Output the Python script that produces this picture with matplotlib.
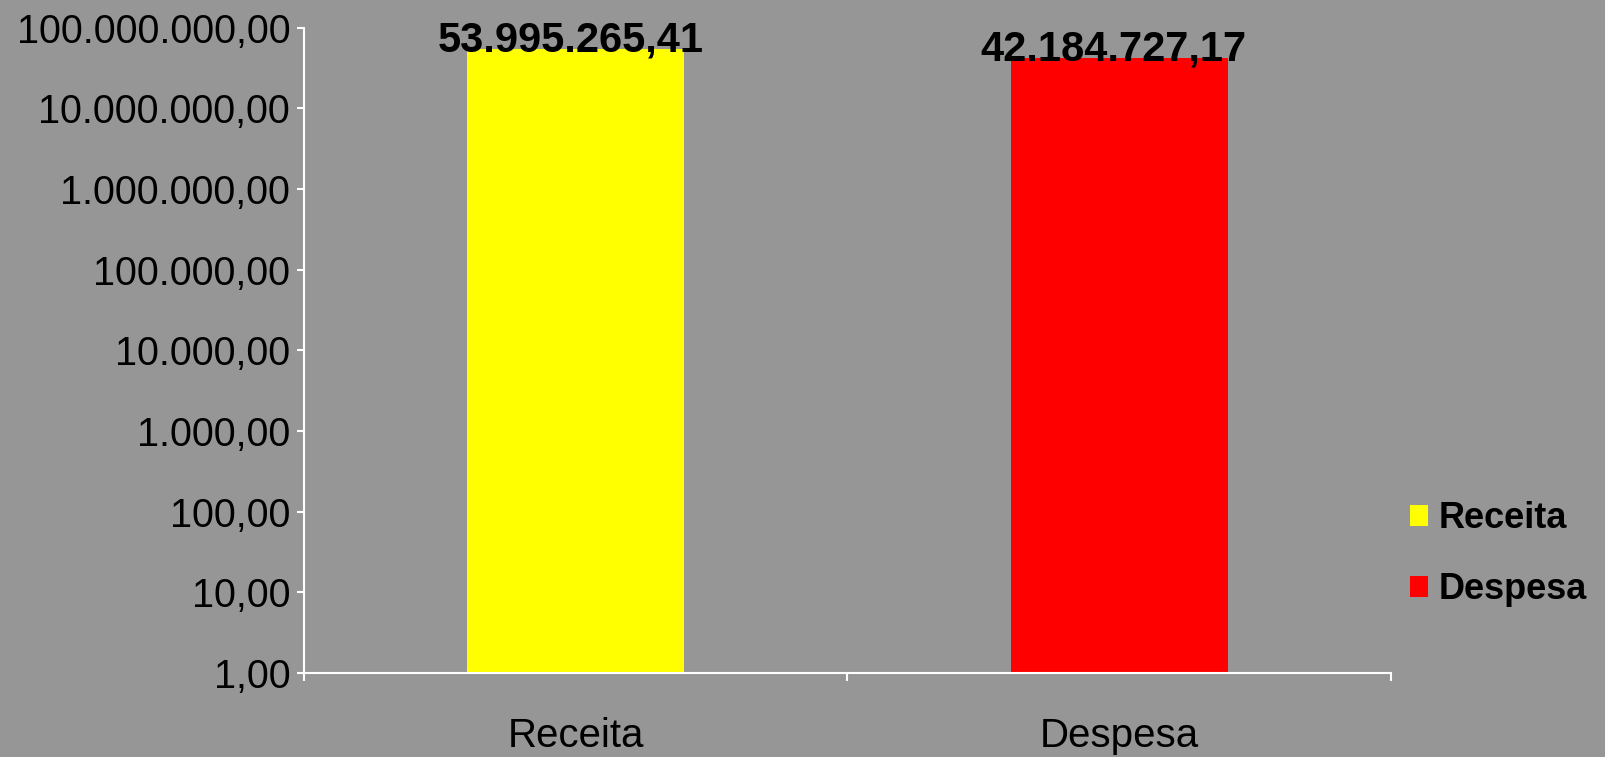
import numpy as np
import matplotlib.pyplot as plt
from matplotlib.ticker import FuncFormatter, FixedLocator
from matplotlib.patches import Patch

# Data
categories = ['Receita', 'Despesa']
values = [53995265.41, 42184727.17]
colors = ['#ffff00', '#ff0000']
y_ticks = [1, 10, 100, 1000, 10000, 100000, 1000000, 10000000, 100000000]

plt.rcParams['font.family'] = ['Liberation Sans', 'DejaVu Sans']
bg = '#969696'


def br_fmt(v, pos=None):
    # Brazilian number format: 1.234.567,89
    s = f'{v:,.2f}'
    return s.replace(',', 'X').replace('.', ',').replace('X', '.')


fig = plt.figure(figsize=(16.06, 7.57), dpi=100, facecolor=bg)
ax = fig.add_axes([0.1893, 0.1110, 0.6768, 0.8525], facecolor=bg)

x = np.arange(len(categories))
bars = ax.bar(x, values, width=0.4, color=colors, bottom=0)

ax.set_yscale('log')
ax.set_ylim(1, 1e8)
ax.set_xlim(-0.5, 1.5)
ax.yaxis.set_major_locator(FixedLocator(y_ticks))
ax.yaxis.set_minor_locator(FixedLocator([]))
ax.yaxis.set_major_formatter(FuncFormatter(br_fmt))

ax.set_xticks(x)
ax.set_xticklabels(categories, fontsize=29)
ax.set_xticks([-0.5, 0.5, 1.5], minor=True)
ax.tick_params(axis='x', which='major', length=0, pad=32)
ax.tick_params(axis='x', which='minor', length=6, width=1.5, color='white')
ax.tick_params(axis='y', which='major', length=5, width=1.5, color='white',
               labelsize=28.5, pad=5)

for side in ['top', 'right']:
    ax.spines[side].set_visible(False)
for side in ['left', 'bottom']:
    ax.spines[side].set_color('white')
    ax.spines[side].set_linewidth(1.5)

# value labels above bars
for xi, v in zip(x, values):
    ax.annotate(br_fmt(v), (xi, v), xytext=(-4, -2), textcoords='offset points',
                ha='center', va='baseline', fontsize=30, fontweight='bold')

handles = [Patch(facecolor=c, edgecolor='none') for c in colors]
leg = fig.legend(handles, categories, loc='center left',
                 bbox_to_anchor=(0.878, 0.268), frameon=False,
                 prop={'size': 26, 'weight': 'bold'}, borderpad=0,
                 borderaxespad=0, handlelength=0.5, handleheight=0.5,
                 handletextpad=0.3, labelspacing=1.0)

fig.savefig('out.png', dpi=100, facecolor=bg)
